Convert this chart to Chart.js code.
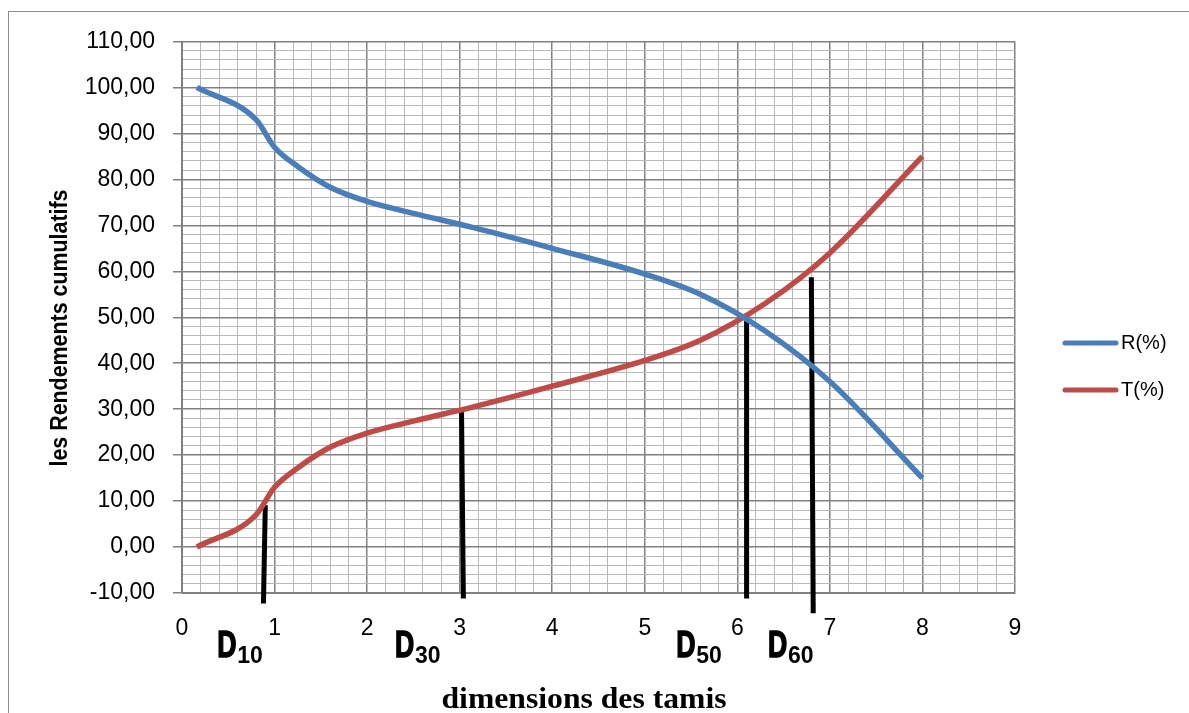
<!DOCTYPE html>
<html>
<head>
<meta charset="utf-8">
<script src="https://cdn.jsdelivr.net/npm/chart.js@4/dist/chart.umd.min.js"></script>
<style>
  html, body { margin: 0; padding: 0; background: #fff; overflow: hidden; }
</style>
</head>
<body>
<canvas id="chart" width="1189" height="713"></canvas>
<script>
// sieve sizes and cumulative yields
var sieve = [0.16, 0.8, 1, 1.25, 1.6, 2, 2.5, 3.15, 4, 5, 5.6, 6.3, 7, 8];
var R = [100, 93, 87, 82.8, 78.3, 75.2, 72.6, 69.5, 65, 59.4, 55, 47, 36, 15];
var T = [0, 7, 13, 17.2, 21.7, 24.8, 27.4, 30.5, 35, 40.6, 45, 53, 64, 85];

// D10 / D30 / D50 / D60 markers (drawn by hand on the original)
var dNames = ['10', '30', '50', '60'];
var dTopX = [0.90, 3.02, 6.10, 6.80];
var dTopY = [9.1, 29.7, 49.7, 58.7];
var dBotX = [0.88, 3.04, 6.10, 6.82];
var dBotY = [-12.3, -11.2, -11.2, -14.4];
var dLabelX = [0.38, 2.30, 5.34, 6.33];

var BLUE = '#4A7EBB';
var RED = '#BE4B48';
var MAJOR = '#808080';
var MINOR = '#b8b8b8';

function pts(xs, ys) {
    return xs.map(function (x, i) { return { x: x, y: ys[i] }; });
}

var datasets = [
    { label: 'R(%)', data: pts(sieve, R), borderColor: BLUE, borderWidth: 5.5,
      pointRadius: 0, cubicInterpolationMode: 'monotone', fill: false },
    { label: 'T(%)', data: pts(sieve, T), borderColor: RED, borderWidth: 5.5,
      pointRadius: 0, cubicInterpolationMode: 'monotone', fill: false }
];
dNames.forEach(function (n, i) {
    datasets.push({
        label: 'D' + n,
        data: [{ x: dBotX[i], y: dBotY[i] }, { x: dTopX[i], y: dTopY[i] }],
        borderColor: '#000', borderWidth: 5, pointRadius: 0,
        tension: 0, clip: false, isMarker: true
    });
});

function isInt(v) { return Math.abs(v - Math.round(v)) < 1e-6; }

var decor = {
    id: 'decor',
    beforeDraw: function (chart) {
        var c = chart.ctx;
        c.save();
        c.fillStyle = '#fff';
        c.fillRect(0, 0, chart.width, chart.height);
        c.strokeStyle = '#8c8c8c';
        c.lineWidth = 1;
        c.strokeRect(8.5, 11.5, 1300, 900);
        c.restore();
    },
    afterDraw: function (chart) {
        var c = chart.ctx;
        var xs = chart.scales.x;
        c.save();
        c.fillStyle = '#000';

        // D labels with subscripts
        dNames.forEach(function (n, i) {
            var x = xs.getPixelForValue(dLabelX[i]);
            c.save();
            c.font = 'bold 37px "Liberation Sans"';
            c.textBaseline = 'alphabetic';
            c.translate(x, 657);
            c.scale(0.72, 1);
            c.lineWidth = 1.5;
            c.strokeStyle = '#000';
            c.fillText('D', 0, 0);
            c.strokeText('D', 0, 0);
            c.restore();
            c.font = 'bold 23px "Liberation Sans"';
            c.textBaseline = 'alphabetic';
            c.fillText(n, x + 20, 663);
        });

        // x title
        var xt = 'dimensions des tamis';
        c.save();
        c.font = 'bold 30px "Liberation Serif"';
        var w = c.measureText(xt).width;
        c.translate(584, 708);
        c.scale(285 / w, 1);
        c.textAlign = 'center';
        c.textBaseline = 'alphabetic';
        c.fillText(xt, 0, 0);
        c.restore();

        // y title
        var yt = 'les Rendements cumulatifs';
        c.save();
        c.font = 'bold 23px "Liberation Sans"';
        var wy = c.measureText(yt).width;
        c.translate(61, 328);
        c.rotate(-Math.PI / 2);
        c.scale(277 / wy, 1);
        c.textAlign = 'center';
        c.textBaseline = 'middle';
        c.fillText(yt, 0, 0);
        c.restore();

        // legend
        var items = chart.data.datasets.filter(function (d) { return !d.isMarker; });
        items.forEach(function (d, i) {
            var y = 343 + i * 47;
            c.strokeStyle = d.borderColor;
            c.lineWidth = 5;
            c.lineCap = 'round';
            c.beginPath();
            c.moveTo(1065, y);
            c.lineTo(1116, y);
            c.stroke();
            c.fillStyle = '#000';
            c.font = '20px "Liberation Sans"';
            c.textBaseline = 'middle';
            c.fillText(d.label, 1121, y);
        });
        c.restore();
    }
};

var ctx = document.getElementById('chart');
var chart = new Chart(ctx, {
    type: 'line',
    data: { datasets: datasets },
    options: {
        responsive: false,
        animation: false,
        devicePixelRatio: 1,
        layout: { padding: { top: 41.5, right: 174, bottom: 0, left: 0 } },
        plugins: {
            legend: { display: false },
            tooltip: { enabled: false }
        },
        scales: {
            x: {
                type: 'linear',
                min: 0,
                max: 9,
                afterFit: function (s) { s.height = 120; },
                border: { color: MAJOR, width: 1 },
                grid: {
                    drawTicks: false,
                    color: function (c) { return isInt(c.tick.value) ? MAJOR : MINOR; },
                    lineWidth: function (c) { return isInt(c.tick.value) ? 1.5 : 1; }
                },
                ticks: {
                    stepSize: 0.2,
                    autoSkip: false,
                    maxRotation: 0,
                    padding: 22,
                    color: '#000',
                    font: { family: '"Liberation Sans"', size: 23 },
                    callback: function (v) { return isInt(v) ? String(Math.round(v)) : ''; }
                }
            },
            y: {
                min: -10,
                max: 110,
                afterFit: function (s) { s.width = 182; },
                border: { color: MAJOR, width: 1 },
                grid: {
                    tickLength: 9,
                    color: function (c) { return Math.round(c.tick.value) % 10 === 0 ? MAJOR : MINOR; },
                    lineWidth: function (c) { return Math.round(c.tick.value) % 10 === 0 ? 1.5 : 1; },
                    tickColor: function (c) { return Math.round(c.tick.value) % 10 === 0 ? MAJOR : 'rgba(0,0,0,0)'; }
                },
                ticks: {
                    stepSize: 2,
                    autoSkip: false,
                    padding: 18,
                    color: '#000',
                    font: { family: '"Liberation Sans"', size: 23 },
                    callback: function (v) {
                        return Math.round(v) % 10 === 0 ? v.toFixed(2).replace('.', ',') : '';
                    }
                }
            }
        }
    },
    plugins: [decor]
});
</script>
</body>
</html>
